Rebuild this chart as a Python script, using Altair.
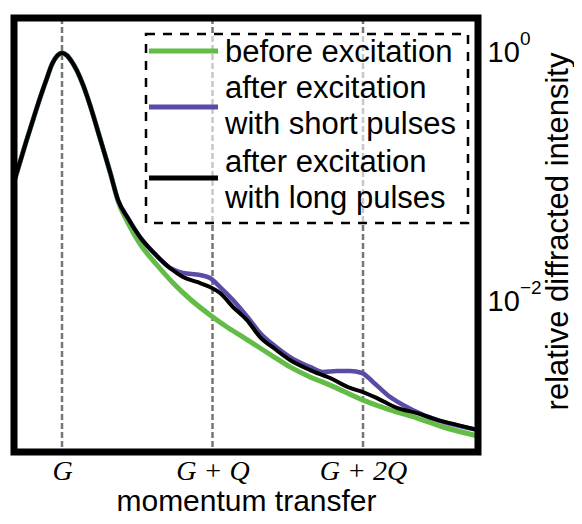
import altair as alt
import pandas as pd

# ---------------- data ----------------
series_names = ["before excitation",
                "after excitation with short pulses",
                "after excitation with long pulses"]
legend_lines = [["before excitation"],
                ["after excitation", "with short pulses"],
                ["after excitation", "with long pulses"]]
colors = ["#62bc46", "#5a4ca6", "#000000"]

# x in units of Q measured from G
peak_pos = [0, 1, 2]
peak_labels = ["G", "G + Q", "G + 2Q"]

y_ticks = [1, 0.01]
y_tick_base = "10"
y_tick_exp = ["0", "\u22122"]

# shared Bragg peak region
peak_x = [-0.319, -0.279, -0.239, -0.193, -0.146, -0.100, -0.066, -0.033, 0.0,
          0.033, 0.066, 0.100, 0.140, 0.186, 0.252, 0.319]
peak_y = [0.092, 0.1331, 0.1928, 0.2895, 0.4351, 0.6297, 0.8159, 0.9460, 1.0,
          0.955, 0.847, 0.717, 0.553, 0.382, 0.2076, 0.1107]

before_x = peak_x + [0.372, 0.439, 0.518, 0.631, 0.738, 0.850, 0.983, 1.096, 1.203, 1.316,
                     1.415, 1.515, 1.648, 1.781, 2.0, 2.179, 2.359, 2.532, 2.764]
before_y = peak_y + [0.0648, 0.0430, 0.0293, 0.01982, 0.01422, 0.01057, 0.00787, 0.00630, 0.00523, 0.00427,
                     0.00358, 0.00301, 0.00250, 0.00215, 0.00163, 0.00136, 0.00117, 0.000991, 0.000839]

long_x = peak_x + [0.372, 0.439, 0.518, 0.618, 0.718, 0.804, 0.897, 0.983, 1.050, 1.136,
                   1.229, 1.316, 1.415, 1.515, 1.648, 1.781, 1.914, 2.0, 2.093, 2.226,
                   2.359, 2.492, 2.625, 2.764]
long_y = peak_y + [0.0660, 0.0470, 0.0333, 0.02429, 0.01875, 0.01588, 0.01448, 0.01319, 0.01181, 0.00912,
                   0.00716, 0.00523, 0.00419, 0.00342, 0.00284, 0.00245, 0.00204, 0.00189, 0.00169, 0.00141,
                   0.00128, 0.00113, 0.00103, 0.000937]

short_x = peak_x + [0.372, 0.439, 0.518, 0.618, 0.718, 0.804, 0.917, 0.983, 1.050, 1.136,
                    1.249, 1.316, 1.415, 1.515, 1.648, 1.734, 1.827, 1.914, 1.993, 2.066,
                    2.179, 2.266, 2.399, 2.532, 2.764]
short_y = peak_y + [0.0660, 0.0470, 0.0333, 0.02429, 0.01875, 0.01710, 0.01648, 0.01559, 0.01319, 0.01038,
                    0.00716, 0.00564, 0.00443, 0.00361, 0.00301, 0.00274, 0.00279, 0.00279, 0.00269, 0.00228,
                    0.00173, 0.00149, 0.00124, 0.00109, 0.000937]

# ---------------- layout ----------------
W, H = 464, 434
FONT = "Liberation Sans"

xscale = alt.Scale(domain=[-0.319, 2.764], nice=False, zero=False)
yscale = alt.Scale(type="log", domain=[6.24e-4, 1.91], nice=False)

label_expr = "'" + peak_labels[-1] + "'"
for p, l in reversed(list(zip(peak_pos[:-1], peak_labels[:-1]))):
    label_expr = f"datum.value == {p} ? '{l}' : ({label_expr})"

xaxis = alt.Axis(values=peak_pos, labelExpr=label_expr, title="momentum transfer",
                 ticks=False, domain=False, grid=False,
                 labelFont="Liberation Serif", labelFontStyle="italic", labelFontSize=28,
                 labelColor="black", labelBaseline="middle", labelPadding=19,
                 labelFlush=False, labelOverlap=False,
                 titleFont=FONT, titleFontSize=30, titleFontWeight="normal", titleColor="black",
                 titleY=58, titleBaseline="alphabetic")

yaxis = alt.Axis(values=y_ticks, labelExpr="'" + y_tick_base + "'", orient="right",
                 title="relative diffracted intensity",
                 ticks=False, domain=False, grid=False,
                 labelFont=FONT, labelFontSize=29, labelColor="black", labelPadding=9,
                 labelAlign="left", labelBaseline="middle", labelOverlap=False,
                 titleFont=FONT, titleFontSize=31, titleFontWeight="normal", titleColor="black",
                 titleAngle=270, titleX=80, titleY=213, titleAlign="center", titleBaseline="middle")

one = pd.DataFrame({"k": [0]})

vlines = alt.Chart(pd.DataFrame({"q": peak_pos})).mark_rule(
    color="#767676", strokeWidth=2.5, strokeDash=[6, 3]
).encode(x=alt.X("q:Q", scale=xscale, axis=xaxis))

box = alt.Chart(one).mark_rect(
    fill="white", fillOpacity=0.6, stroke="black", strokeWidth=2.5, strokeDash=[9, 8]
).encode(x=alt.value(132), x2=alt.value(454), y=alt.value(16), y2=alt.value(205))


def curve(xs, ys, color, width):
    df = pd.DataFrame({"q": xs, "intensity": ys})
    return alt.Chart(df).mark_line(color=color, strokeWidth=width, interpolate="monotone",
                                   clip=True).encode(
        x=alt.X("q:Q", scale=xscale, axis=xaxis),
        y=alt.Y("intensity:Q", scale=yscale, axis=yaxis))


c_before = curve(before_x, before_y, colors[0], 5)
c_short = curve(short_x, short_y, colors[1], 4.5)
c_long = curve(long_x, long_y, colors[2], 4)

sample_y = [33, 89, 160]
text_y = [44, 80, 154]
legend_layers = []
for i in range(3):
    legend_layers.append(
        alt.Chart(one).mark_rule(color=colors[i], strokeWidth=5).encode(
            x=alt.value(135), x2=alt.value(204), y=alt.value(sample_y[i])))
    legend_layers.append(
        alt.Chart(one).mark_text(align="left", baseline="alphabetic", font=FONT, fontSize=31,
                                 lineHeight=36, color="black").encode(
            x=alt.value(211), y=alt.value(text_y[i]), text=alt.value(legend_lines[i])))

exps = alt.Chart(pd.DataFrame({"intensity": y_ticks, "exp": y_tick_exp})).mark_text(
    align="left", baseline="middle", dy=-14, font=FONT, fontSize=19, color="black"
).encode(x=alt.value(W + 9 + 33), y=alt.Y("intensity:Q", scale=yscale, axis=yaxis), text="exp:N")

border = alt.Chart(one).mark_rect(filled=False, stroke="black", strokeWidth=7).encode(
    x=alt.value(0), x2=alt.value(W), y=alt.value(0), y2=alt.value(H))

chart = alt.layer(vlines, box, c_before, c_short, c_long, *legend_layers, exps, border).properties(
    width=W, height=H,
    padding={"left": 6, "top": 10, "right": 96, "bottom": 64},
    autosize="none", background="white"
).configure_view(stroke=None)

chart.save("out.html", embed_options={"renderer": "svg", "actions": False})
